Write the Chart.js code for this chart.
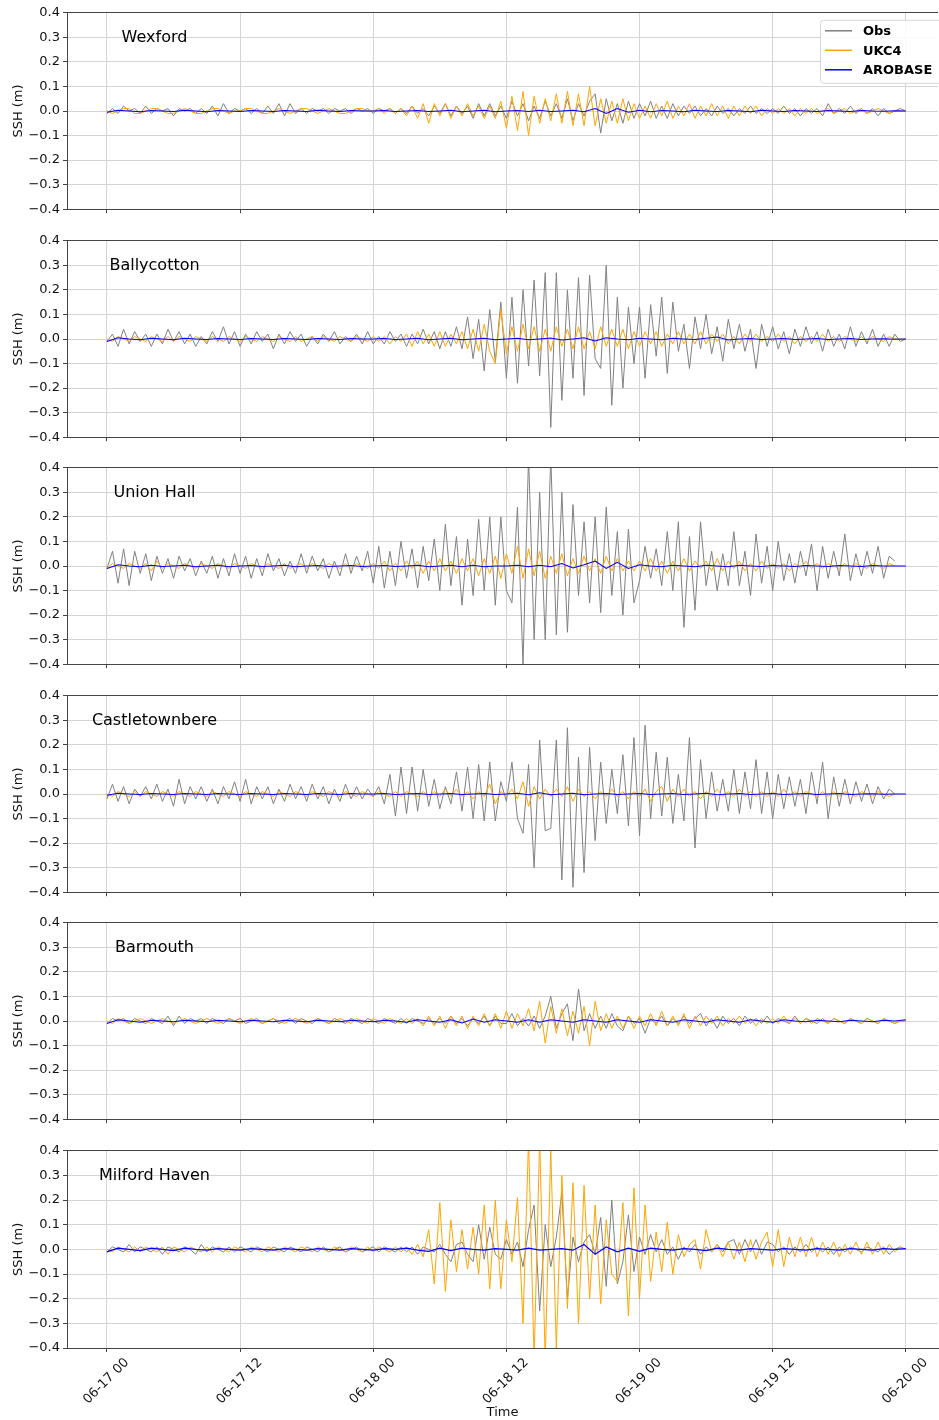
<!DOCTYPE html>
<html>
<head>
<meta charset="utf-8">
<title>SSH residuals at six stations</title>
<script src="https://cdn.jsdelivr.net/npm/chart.js@4.4.1/dist/chart.umd.min.js"></script>
<style>
  html, body { margin: 0; padding: 0; background: #fff; }
  #figure { position: relative; width: 939px; height: 1420px; overflow: hidden; }
  .panel { position: absolute; left: 0; width: 939px; }
</style>
</head>
<body>
<div id="figure"></div>
<script>
// values in cm.
// Obs and UKC4: every 30 min from 06-17 00 to 06-20 00 (145 values)
// AROBASE: hourly (73 values)

const stationNames = ['Wexford', 'Ballycotton', 'Union Hall', 'Castletownbere', 'Barmouth', 'Milford Haven'];
const xTickHours = [0, 12, 24, 36, 48, 60, 72];
const xTickLabels = ['06-17 00', '06-17 12', '06-18 00', '06-18 12', '06-19 00', '06-19 12', '06-20 00'];
const yTicks = [-0.4, -0.3, -0.2, -0.1, 0, 0.1, 0.2, 0.3, 0.4];

const wexfordObs = [
  -1,1,-1,2,0,1,-1,2,-1,1,0,1,-2,1,0,1,-1,1,-1,2,-2,3,-1,1,
  0,1,-1,1,-1,2,-1,3,-2,3,-1,1,-1,1,0,1,-1,1,0,1,-1,1,0,1,
  -1,1,0,1,-1,1,-1,2,-1,1,-2,2,-1,3,-2,2,-1,2,-3,3,-2,3,-2,2,
  -3,4,-2,3,-4,2,-3,4,-2,3,-3,5,-4,3,-2,4,7,-9,5,-4,3,-5,4,-3,
  3,-2,4,-3,2,-3,3,-2,2,-1,2,-2,1,-2,2,-1,1,-2,1,-1,2,-1,1,-1,
  1,-1,2,-1,1,-2,1,-1,1,-2,3,-1,1,-1,2,-1,1,-1,1,-2,1,-1,0,1,
  0
];
const wexfordUkc4 = [
  0,-1,0,1,1,-1,-1,0,1,1,0,-1,-1,0,1,0,-1,-1,0,1,1,0,-1,0,
  0,1,1,0,-1,-1,0,1,0,-1,0,1,1,0,-1,0,1,0,-1,-1,0,1,1,0,
  0,1,-1,1,-1,1,-2,2,-3,3,-5,3,-2,3,-3,2,-2,3,-2,2,-3,2,-3,4,
  -7,6,-8,8,-10,6,-5,5,-4,7,-5,8,-6,7,-6,10,-6,5,-5,4,-5,5,-4,3,
  -3,2,-3,3,-2,4,-3,2,-2,3,-3,2,-2,3,-2,2,-3,2,-2,2,-1,2,-2,1,
  -1,1,-1,1,-2,1,-1,1,-1,0,1,-1,0,1,-1,0,1,-1,0,1,0,-1,0,0,
  0
];
const wexfordArobase = [
  -0.5,0.3,0,-0.3,0.2,0,-0.2,0.3,0,-0.3,0.2,0,-0.2,0.2,0,-0.2,0.2,0,-0.2,0.3,0,-0.2,0.2,0,
  0,0.2,-0.2,0,0.2,-0.2,0,0.3,-0.3,0,0.3,-0.3,0,0.2,-0.2,0.3,-0.2,0,0.3,-0.3,1,-1,1,-0.5,
  0.3,-0.3,0.2,0,-0.3,0.3,0,-0.2,0.2,0,-0.3,0.3,0,-0.2,0.2,0,-0.2,0.2,0,-0.2,0.2,0,-0.1,0.1,0
];

const ballycottonObs = [
  -1,2,-3,4,-2,3,-1,2,-3,2,-2,4,-1,3,-2,2,-3,1,-2,3,-1,5,-2,3,
  -3,2,-2,3,-1,2,-4,2,-2,3,-1,2,-3,1,-2,2,-1,3,-2,1,-1,2,-2,3,
  -2,1,-2,3,-1,2,-3,2,-2,4,-2,3,-4,3,-3,5,-4,9,-8,8,-13,12,-9,15,
  -16,17,-18,20,-11,24,-15,27,-36,27,-25,20,-16,25,-23,26,-8,-12,30,-27,17,-20,13,-10,
  13,-16,14,-7,17,-14,15,-5,6,-12,9,-4,10,-6,5,-9,8,-4,6,-5,4,-12,6,-3,
  5,-4,3,-6,4,-3,5,-2,3,-5,4,-3,2,-4,5,-3,3,-2,4,-3,2,-3,2,-1,
  0
];
const ballycottonUkc4 = [
  0,-1,1,0,-1,1,0,-1,1,0,-1,1,-1,1,0,-1,1,0,-1,1,0,-1,1,0,
  -1,1,0,-1,1,0,-1,1,0,-1,1,-1,0,1,-1,1,0,-1,1,0,-1,1,0,-1,
  1,-1,1,-2,1,-1,2,-3,3,-2,2,-3,3,-3,2,-2,3,-4,4,-5,6,-5,-10,12,
  -6,5,-5,6,-4,5,-5,4,-5,5,-3,4,-4,5,-4,3,-4,5,-3,4,-3,4,-4,3,
  -3,3,-2,3,-3,2,-2,3,-2,2,-2,3,-2,2,-1,2,-2,1,-2,2,-1,2,-1,1,
  -1,2,-1,1,-2,1,-1,1,-1,2,-1,1,-1,1,0,-1,1,-1,1,0,-1,1,0,0,
  0
];
const ballycottonArobase = [
  -1,0.5,0,-0.3,0.3,0,-0.3,0.3,0,-0.2,0.2,0,-0.2,0.2,0,-0.2,0.2,0,-0.2,0.2,0,-0.2,0.2,0,
  0,0.2,-0.2,0,0.3,-0.3,0,0.3,-0.3,0,0.3,-0.3,0,0.3,-0.3,0,0.4,-0.4,0,0.5,-0.8,0.5,0,-0.3,
  0.3,0,-0.3,0.3,0,-0.2,0.3,0.8,-0.4,0,0.2,-0.2,0,0.2,-0.2,0,0.2,-0.2,0,0.2,-0.2,0,0.1,-0.1,0
];

const unionHallObs = [
  -1,6,-7,7,-8,6,-3,5,-6,4,-3,3,-5,4,-2,3,-4,2,-3,4,-5,3,-4,5,
  -3,4,-5,3,-4,5,-2,3,-4,2,-3,5,-3,4,-2,3,-5,2,-4,5,-3,4,-2,6,
  -7,8,-9,6,-8,10,-5,7,-9,8,-6,11,-10,17,-8,12,-16,11,-12,19,-10,20,-16,20,
  -10,-15,24,-40,45,-30,30,-30,45,-28,30,-27,25,-12,18,-15,20,-19,24,-12,14,-20,15,-15,
  -6,8,-5,7,-8,14,-10,18,-25,12,-18,18,-8,6,-10,5,-8,14,-8,6,-12,13,-7,8,
  -10,10,-6,5,-7,6,-4,9,-10,8,-5,6,-4,13,-6,5,-4,6,-3,8,-5,4,2,null,
  null
];
const unionHallUkc4 = [
  -1,1,0,-1,1,0,-1,1,-2,2,-1,1,0,-1,1,0,-1,1,0,-1,1,0,-1,1,
  0,-1,1,0,-1,1,0,-1,1,-1,0,1,-1,1,0,-1,1,0,-1,1,-1,1,0,-1,
  1,-1,2,-2,1,-2,2,-1,2,-3,2,-2,3,-2,2,-3,3,-2,3,-4,3,-3,4,-5,
  5,-3,8,-5,7,-4,6,-5,4,-3,5,-4,3,-3,4,-2,3,-3,4,-2,3,-2,2,-2,
  2,-2,3,-2,2,-3,2,-2,3,-2,2,-1,2,-2,3,-2,2,-1,2,-2,1,-2,2,-1,
  1,-1,1,-2,1,-1,2,-1,1,-1,1,0,-1,1,-1,1,0,-1,1,0,-1,1,0,null,
  null
];
const unionHallArobase = [
  -1,0.5,0,-0.3,0.3,-0.2,0,0.3,-0.3,0,0.3,-0.3,0,0.2,-0.2,0,0.3,-0.3,0,0.2,-0.2,0,0.2,-0.2,
  0,0.2,-0.2,0,0.3,-0.3,0,0.3,-0.3,0.3,-0.3,0,0,0.3,-0.3,0.3,-0.3,1,-0.8,0.5,2,-1,1.5,-1,
  0.5,0,-0.3,0.3,0,-0.3,0.3,0,-0.3,0.3,0,-0.2,0.2,0,-0.2,0.2,0,-0.2,0.2,0,-0.2,0.2,0,0,0
];

const castletownbereObs = [
  -2,4,-3,3,-4,2,-1,3,-2,4,-3,2,-5,6,-4,3,-2,3,-3,2,-4,3,-2,5,
  -3,6,-4,3,-2,3,-4,2,-3,4,-2,3,-3,4,-2,3,-4,2,-3,4,-2,3,-2,2,
  -1,3,-4,8,-9,11,-8,11,-7,10,-5,6,-6,3,-4,9,-7,11,-10,12,-11,13,-11,5,
  -3,13,-10,-16,12,-30,22,-15,-14,22,-35,27,-38,15,-32,19,-19,13,-12,10,-8,16,-13,23,
  -17,28,-10,17,-9,15,-12,8,-11,23,-22,14,-10,9,-7,6,-7,10,-8,9,-6,14,-8,9,
  -10,8,-6,7,-5,6,-8,9,-4,13,-10,7,-5,6,-4,5,-3,4,-4,3,-2,2,0,null,
  null
];
const castletownbereUkc4 = [
  0,-1,1,0,-1,1,-1,1,0,-1,1,0,-1,1,0,-1,1,0,-1,1,0,-1,1,0,
  -1,1,0,-1,1,0,-1,1,0,-1,1,0,-1,1,0,-1,1,0,-1,1,0,-1,1,0,
  -1,1,0,-1,1,-1,1,0,-1,1,-1,1,-1,2,-1,2,-1,1,-2,1,-1,4,-4,1,
  -1,2,-2,5,-5,3,-2,2,-1,2,-1,3,-3,2,-1,1,-2,1,-1,2,-1,1,-2,1,
  -1,2,-3,1,3,-3,2,-1,2,-1,1,-2,1,-1,2,-1,1,-1,2,-1,1,-1,1,-1,
  1,-1,2,-1,1,-1,1,0,-1,1,-1,1,-1,1,0,-1,1,0,-1,1,0,-1,0,null,
  null
];
const castletownbereArobase = [
  -0.5,0.3,0,-0.2,0.2,0,-0.2,0.2,0,-0.2,0.2,0,-0.2,0.2,0,-0.2,0.2,0,-0.2,0.2,0,-0.2,0.2,0,
  0,0.2,-0.2,0,0.2,-0.2,0,0.2,-0.2,0,0.2,-0.2,0,0.3,-0.3,0.5,-0.3,0,0.3,-0.3,0,0.2,-0.2,0,
  0.2,-0.2,0,0.2,-0.2,0,0.3,-0.3,0,0.2,-0.2,0,0.2,-0.2,0,0.2,-0.2,0,0.2,-0.2,0,0.1,-0.1,0,0
];

const barmouthObs = [
  -1,1,0,1,-1,1,0,-1,1,0,-1,2,-2,2,-1,1,0,1,-1,1,0,-1,1,0,
  1,-1,0,1,-1,0,1,-1,0,1,-1,1,0,-1,1,0,-1,1,0,-1,1,0,-1,1,
  0,-1,1,0,-1,1,-1,1,0,-1,1,-1,1,-1,2,-1,1,-2,1,-1,2,-2,2,-1,
  -1,3,-2,1,-2,2,-3,2,10,-3,3,7,-8,13,-4,3,-3,2,-3,3,-2,-4,2,-1,
  1,-5,1,-1,2,-2,1,-1,2,-1,1,3,-2,1,-3,2,-1,1,-2,2,-1,1,-1,2,
  -1,1,0,-1,2,-1,1,0,-1,1,-1,1,0,-1,1,0,-1,1,0,-1,1,0,-1,0,
  0
];
const barmouthUkc4 = [
  0,-1,1,0,-1,0,1,0,-1,0,1,0,-1,0,1,0,-1,0,1,0,-1,0,1,0,
  -1,0,1,0,-1,0,1,0,-1,0,1,0,-1,0,1,0,-1,0,1,0,-1,1,0,-1,
  1,0,-1,1,0,-1,1,-1,1,-2,2,-2,2,-3,2,-2,2,-3,2,-2,3,-2,3,-3,
  4,-3,3,-2,5,-4,8,-9,6,-5,5,-6,4,-5,6,-10,8,-4,3,-3,2,-3,2,-3,
  2,-2,3,-2,4,-2,2,-2,3,-3,2,-2,2,-1,2,-2,1,-1,2,-1,1,-2,1,-1,
  1,-1,2,-1,1,-1,1,-1,1,0,-1,1,0,-1,1,0,-1,1,0,-1,1,0,-1,0,
  0
];
const barmouthArobase = [
  -1,0.5,0,-0.5,0.3,0,-0.3,0.3,0,-0.3,0.3,0,-0.3,0.3,0,-0.3,0.3,0,-0.3,0.3,0,-0.3,0.3,0,
  -0.3,0.3,0,-0.5,0.5,0,-0.5,0.5,-0.8,0.8,-0.5,0.5,0,-0.5,0.5,-0.5,0.5,0,-0.5,0.5,0,-0.5,0.5,0,
  -0.5,0.5,0,-0.5,0.5,0,-0.5,0.5,0,-0.5,0.5,0,-0.5,0.5,0,-0.3,0.3,0,-0.3,0.3,0,-0.3,0.3,0,0.5
];

const milfordObs = [
  -1,1,0,-1,2,-1,1,0,-1,1,-2,1,0,-1,1,0,-2,2,-1,1,0,-1,1,-1,
  1,0,-1,1,0,-1,1,0,-1,1,0,-1,1,0,-1,1,-1,0,1,-1,0,1,-1,0,
  1,-1,1,0,-1,1,-1,1,-2,1,0,-1,2,-2,-5,2,3,-2,-5,10,-4,9,-2,-4,
  4,-2,3,-7,8,18,-25,10,-7,5,23,-20,5,-5,3,6,-2,13,-15,20,-14,-5,14,-9,
  5,-2,6,-1,4,-2,1,-4,1,-1,2,-2,1,-1,2,-1,3,4,-2,4,-1,4,-2,3,
  2,-1,1,-2,1,-1,2,-1,1,-1,1,-2,1,-1,1,0,-1,1,0,-1,1,-2,0,1,
  0
];
const milfordUkc4 = [
  0,-1,1,0,-1,1,-1,1,0,-1,1,-2,1,0,-1,1,0,-1,1,-1,1,0,-1,1,
  0,-1,1,0,-1,1,0,-1,1,0,-1,1,0,-1,1,0,-1,1,0,-1,1,0,-1,1,
  -1,1,0,-1,1,-1,1,-2,2,-3,8,-14,19,-17,12,-9,8,-8,9,-10,18,-16,20,-16,
  12,-5,21,-30,45,-45,45,-45,40,-40,30,-24,27,-30,26,-20,18,-22,12,-10,-13,19,-27,25,
  -20,18,-13,7,-9,11,-10,6,-3,2,4,-8,8,-1,2,-3,3,-4,3,-5,4,-4,3,7,
  -7,8,-7,5,-3,5,-3,5,-3,3,-2,3,-3,2,-2,3,-2,3,-2,3,-2,2,-1,1,
  0
];
const milfordArobase = [
  -1,0.5,0,-0.5,0.5,0,-0.5,0.5,0,-0.3,0.3,0,-0.3,0.3,0,-0.3,0.3,0,-0.3,0.3,0,-0.3,0.3,0,
  -0.3,0.3,0,0.5,-0.3,-0.8,0.5,-0.5,0.5,0,-0.3,0.3,0,-0.3,0.5,-0.3,0,0.3,-0.3,2,-2,1,-1,0.5,
  -0.8,0.5,0,-0.3,0.3,0,-0.5,0.5,0,-0.3,0.3,0,-0.3,0.3,0,-0.3,0.3,0,-0.3,0.3,0,-0.3,0.3,0,0.3
];

const panels = [
  { obs: wexfordObs, ukc4: wexfordUkc4, arobase: wexfordArobase },
  { obs: ballycottonObs, ukc4: ballycottonUkc4, arobase: ballycottonArobase },
  { obs: unionHallObs, ukc4: unionHallUkc4, arobase: unionHallArobase },
  { obs: castletownbereObs, ukc4: castletownbereUkc4, arobase: castletownbereArobase },
  { obs: barmouthObs, ukc4: barmouthUkc4, arobase: barmouthArobase },
  { obs: milfordObs, ukc4: milfordUkc4, arobase: milfordArobase }
];

// ---- layout / style ----
const panelTops = [12, 240, 467, 695, 922, 1150];
const plotHeight = 198;
const padTop = 10;
const fontFamily = '"DejaVu Sans", sans-serif';
const gridColor = '#d4d4d4';
const spineColor = '#444444';
const textColor = '#111111';
const colors = { obs: '#808080', ukc4: '#ffa500', arobase: '#0000ff' };

function toPoints(values, stepHours) {
  return values.map((v, i) => ({ x: i * stepHours, y: v === null ? null : v / 100 }));
}

function decorPlugin(name, withLegend) {
  return {
    id: 'decor',
    afterDraw(chart) {
      const { ctx, chartArea } = chart;
      const top = chartArea.top;
      ctx.save();
      // top spine
      ctx.strokeStyle = spineColor;
      ctx.lineWidth = 1;
      ctx.beginPath();
      ctx.moveTo(chartArea.left, Math.floor(top) + 0.5);
      ctx.lineTo(chartArea.right, Math.floor(top) + 0.5);
      ctx.stroke();
      // station name
      ctx.fillStyle = '#000';
      ctx.font = '16px ' + fontFamily;
      ctx.textAlign = 'center';
      ctx.textBaseline = 'middle';
      ctx.fillText(name, 154.5, top + 25);

      if (withLegend) {
        const lx = 820, ly = top + 7, lw = 130, lh = 63;
        ctx.beginPath();
        if (ctx.roundRect) ctx.roundRect(lx + 0.5, ly + 0.5, lw, lh, 3);
        else ctx.rect(lx + 0.5, ly + 0.5, lw, lh);
        ctx.fillStyle = 'rgba(255,255,255,0.85)';
        ctx.fill();
        ctx.strokeStyle = '#d6d6d6';
        ctx.stroke();
        const items = [['Obs', colors.obs], ['UKC4', colors.ukc4], ['AROBASE', colors.arobase]];
        ctx.font = 'bold 13px ' + fontFamily;
        ctx.textAlign = 'left';
        items.forEach(([label, col], i) => {
          const y = top + 18 + i * 19.5;
          ctx.strokeStyle = col;
          ctx.lineWidth = 1.5;
          ctx.beginPath();
          ctx.moveTo(825, y);
          ctx.lineTo(852, y);
          ctx.stroke();
          ctx.fillStyle = '#000';
          ctx.fillText(label, 863, y + 1);
        });
      }
      ctx.restore();
    }
  };
}

const figure = document.getElementById('figure');

panels.forEach((p, idx) => {
  const isBottom = idx === panels.length - 1;
  const axisHeight = isBottom ? 1420 - (panelTops[idx] + plotHeight) : 10;
  const h = padTop + plotHeight + axisHeight;

  const div = document.createElement('div');
  div.className = 'panel';
  div.style.top = (panelTops[idx] - padTop) + 'px';
  div.style.height = h + 'px';
  const canvas = document.createElement('canvas');
  canvas.width = 939;
  canvas.height = h;
  div.appendChild(canvas);
  figure.appendChild(div);

  const tickFont = { family: fontFamily, size: 13 };

  new Chart(canvas.getContext('2d'), {
    type: 'line',
    data: {
      datasets: [
        { label: 'Obs', data: toPoints(p.obs, 0.5), borderColor: colors.obs, borderWidth: 1, order: 3 },
        { label: 'UKC4', data: toPoints(p.ukc4, 0.5), borderColor: colors.ukc4, borderWidth: 1, order: 2 },
        { label: 'AROBASE', data: toPoints(p.arobase, 1), borderColor: colors.arobase, borderWidth: 1.1, order: 1 }
      ]
    },
    options: {
      responsive: false,
      animation: false,
      spanGaps: false,
      elements: { point: { radius: 0 }, line: { tension: 0, fill: false } },
      layout: { padding: { top: padTop, right: 1, left: 0, bottom: 0 } },
      plugins: { legend: { display: false }, tooltip: { enabled: false } },
      scales: {
        x: {
          type: 'linear',
          min: -3.6,
          max: 74.9,
          afterBuildTicks: s => { s.ticks = xTickHours.map(v => ({ value: v })); },
          afterFit: s => { s.height = axisHeight; },
          ticks: {
            display: isBottom,
            autoSkip: false,
            minRotation: 45,
            maxRotation: 45,
            labelOffset: 20,
            padding: 3,
            color: textColor,
            font: tickFont,
            callback: v => xTickLabels[xTickHours.indexOf(v)]
          },
          grid: { color: gridColor, lineWidth: 1, tickLength: 4, tickColor: spineColor, tickWidth: 1 },
          border: { color: spineColor, width: 1 },
          title: {
            display: isBottom,
            text: 'Time',
            color: textColor,
            font: tickFont,
            padding: { top: 0, bottom: 0 }
          }
        },
        y: {
          min: -0.4,
          max: 0.4,
          afterBuildTicks: s => { s.ticks = yTicks.map(v => ({ value: v })); },
          afterFit: s => { s.width = 67; },
          ticks: {
            padding: 3,
            color: textColor,
            font: tickFont,
            callback: v => v.toFixed(1).replace('-', '\u2212')
          },
          grid: { color: gridColor, lineWidth: 1, tickLength: 4, tickColor: spineColor, tickWidth: 1 },
          border: { color: spineColor, width: 1 },
          title: {
            display: true,
            text: 'SSH (m)',
            color: textColor,
            font: tickFont,
            padding: { top: 11, bottom: 0 }
          }
        }
      }
    },
    plugins: [decorPlugin(stationNames[idx], idx === 0)]
  });
});
</script>
</body>
</html>
